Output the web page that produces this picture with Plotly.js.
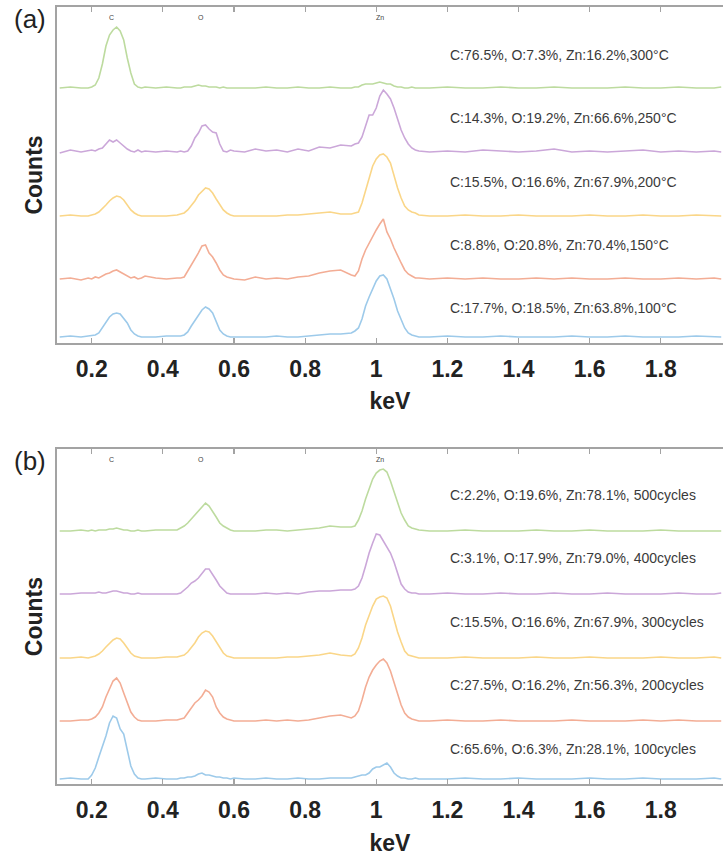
<!DOCTYPE html>
<html>
<head>
<meta charset="utf-8">
<script src="https://cdn.plot.ly/plotly-3.0.1.min.js"></script>
<style>html,body{margin:0;padding:0;background:#fff;overflow:hidden;}</style>
</head>
<body>
<div id="chart" style="width:723px;height:856px;"></div>
<script>
// ---------- DATA ----------
const keV = [0.11,0.14,0.17,
  0.19,0.20,0.21,0.22,0.23,0.24,0.25,0.26,0.27,0.28,0.29,0.30,0.31,0.32,0.33,0.34,0.35,
  0.38,0.41,
  0.44,0.45,0.46,0.47,0.48,0.49,0.50,0.51,0.52,0.53,0.54,0.55,0.56,0.57,0.58,0.59,0.60,
  0.63,0.66,0.69,0.72,0.75,0.78,0.81,0.84,0.87,0.90,
  0.93,0.94,0.95,0.96,0.97,0.98,0.99,1.00,1.01,1.02,1.03,1.04,1.05,1.06,1.07,1.08,1.09,1.10,1.11,1.12,
  1.15,1.20,1.25,1.30,1.35,1.40,1.45,1.50,1.55,1.60,1.65,1.70,1.75,1.80,1.85,1.90,1.95,1.97];

// (a) temperature series: counts above each spectrum's baseline
const a100 = [0,1,0, 1,1,2,4,9,15,20,23,24,23,19,14,7,3,1,0,0, 0,1,
  1,1,2,5,11,16,22,27,30,28,24,15,7,3,1,0,0, 0,0,0,1,0,0,1,2,3,3,
  4,6,9,18,31,40,49,56,61,62,58,49,38,26,17,9,4,2,1,0,
  0,1,0,0,1,0,0,0,1,0,0,1,0,0,0,1,0,0];
const a150 = [0,1,-1, 1,0,2,1,3,5,6,8,9,7,5,3,1,2,0,1,3, 1,0,
  1,1,2,8,14,19,26,33,34,26,22,16,9,4,2,1,0, -1,2,0,1,0,2,3,6,8,9,
  4,3,8,20,29,36,42,49,55,60,47,40,31,23,16,9,5,3,1,1,
  0,1,0,1,0,0,1,0,1,0,0,1,0,0,1,0,1,0];
const a200 = [0,1,0, 0,1,2,4,7,11,15,18,20,19,16,11,6,3,1,0,0, 0,0,
  1,2,3,6,10,15,21,25,28,27,23,17,11,6,3,1,0, 0,0,0,0,1,1,2,3,4,2,
  2,3,4,13,26,39,50,57,61,62,59,53,39,28,18,10,6,4,3,1,
  0,0,1,0,0,1,0,0,0,1,0,0,1,0,0,1,0,0];
const a250 = [-1,2,0, 1,2,1,3,4,8,12,10,12,9,6,3,1,0,2,0,1, 0,1,
  0,1,0,1,6,14,19,26,27,23,20,19,8,1,0,2,1, 0,3,1,2,0,3,1,5,4,7,
  6,8,9,15,26,37,37,44,56,62,58,53,44,33,22,14,8,4,2,1,
  0,1,0,2,1,0,1,3,0,1,0,1,2,0,1,0,1,0];
const a300 = [0,1,0, 0,1,3,10,24,42,53,58,61,57,48,30,15,4,1,0,1, 0,1,
  0,0,1,1,1,2,3,2,2,1,1,1,0,1,0,0,0, 0,0,1,0,0,1,0,0,1,0,
  0,1,1,3,4,4,4,5,6,5,4,4,2,1,1,0,0,1,0,0,
  0,1,0,0,1,0,0,1,0,0,0,1,0,0,1,0,0,1];

// (b) cycle series
const b100 = [0,1,0, 0,4,11,22,32,43,56,63,61,50,45,30,13,5,1,0,0, 1,0,
  0,1,1,2,2,3,5,6,4,4,3,2,2,1,1,0,1, 0,0,1,0,0,1,0,0,1,1,
  1,2,3,4,4,6,10,12,12,14,16,12,6,3,1,1,0,0,1,0,
  0,0,1,0,0,1,0,0,0,1,0,0,1,0,0,0,1,0];
const b200 = [0,0,1, 1,2,4,8,14,24,32,40,43,38,28,18,9,4,1,0,0, 0,1,
  1,2,3,8,13,18,21,25,31,29,24,14,8,4,2,1,0, 0,0,1,0,1,0,1,3,5,6,
  3,5,10,21,34,44,51,56,60,62,58,50,38,26,16,8,4,2,1,0,
  0,1,0,0,1,0,0,0,1,0,0,0,1,0,1,0,0,0];
const b300 = [0,0,1, 0,1,2,4,7,11,15,18,20,19,15,10,5,2,1,0,0, 0,1,
  1,2,3,6,10,15,21,25,27,26,22,16,10,5,2,1,0, 0,0,0,0,1,1,2,3,5,3,
  2,4,10,20,33,43,52,59,61,62,60,52,38,26,16,7,3,2,1,0,
  0,0,1,0,0,0,1,0,0,1,0,0,0,1,0,0,1,0];
const b400 = [0,0,1, 1,1,1,2,1,1,2,3,3,2,1,1,0,0,1,0,0, 0,0,
  0,1,4,7,11,13,16,20,25,25,20,14,8,4,1,0,0, 0,0,1,0,1,0,2,3,3,4,
  4,5,8,16,28,41,51,60,59,53,48,41,32,21,10,5,2,1,1,0,
  0,1,0,0,1,0,0,1,0,0,1,0,0,0,1,0,0,1];
const b500 = [0,0,1, 0,1,0,1,1,1,2,2,3,2,1,1,0,0,1,0,0, 1,1,
  1,3,5,8,12,16,21,25,28,25,20,14,8,5,3,1,0, 0,0,1,1,0,1,2,3,5,4,
  4,5,11,20,32,43,52,58,61,62,59,50,40,29,18,11,5,3,2,1,
  0,0,1,0,0,0,1,0,0,1,0,0,0,1,0,0,0,0];

// vertical stacking offsets (bottom to top)
const offsetsA = [6, 64, 127, 191, 255];
const offsetsB = [5, 63, 126, 190, 253];

const labelsA = ['C:17.7%, O:18.5%, Zn:63.8%,100°C', 'C:8.8%, O:20.8%, Zn:70.4%,150°C',
  'C:15.5%, O:16.6%, Zn:67.9%,200°C', 'C:14.3%, O:19.2%, Zn:66.6%,250°C',
  'C:76.5%, O:7.3%, Zn:16.2%,300°C'];
const labelsB = ['C:65.6%, O:6.3%, Zn:28.1%, 100cycles', 'C:27.5%, O:16.2%, Zn:56.3%, 200cycles',
  'C:15.5%, O:16.6%, Zn:67.9%, 300cycles', 'C:3.1%, O:17.9%, Zn:79.0%, 400cycles',
  'C:2.2%, O:19.6%, Zn:78.1%, 500cycles'];

const elements = ['C', 'O', 'Zn'];
const elementKeV = [0.257, 0.507, 1.011];

const tickVals = [0.2, 0.4, 0.6, 0.8, 1.0, 1.2, 1.4, 1.6, 1.8];
const tickText = ['0.2', '0.4', '0.6', '0.8', '1', '1.2', '1.4', '1.6', '1.8'];

// ---------- STYLE ----------
const colors = ['#9dcaea', '#f3ad95', '#fad688', '#cba7d9', '#bddb9f'];
const FONT = 'Liberation Sans, Arial, sans-serif';

const seriesA = [a100, a150, a200, a250, a300];
const seriesB = [b100, b200, b300, b400, b500];

const traces = [];
seriesA.forEach((s, i) => {
  traces.push({x: keV, y: s.map(v => v + offsetsA[i]), xaxis: 'x2', yaxis: 'y2',
    type: 'scatter', mode: 'lines', line: {color: colors[i], width: 1.6}, hoverinfo: 'skip'});
});
seriesB.forEach((s, i) => {
  traces.push({x: keV, y: s.map(v => v + offsetsB[i]), xaxis: 'x', yaxis: 'y',
    type: 'scatter', mode: 'lines', line: {color: colors[i], width: 1.6}, hoverinfo: 'skip'});
});

const axisColor = '#a3a3a3';
function xAxis(anchor) {
  return {
    anchor: anchor, range: [0.1024, 1.975], showline: true, linecolor: axisColor, linewidth: 1.6,
    mirror: 'ticks', ticks: 'inside', ticklen: 5, tickwidth: 1.2, tickcolor: axisColor,
    tickvals: tickVals, ticktext: tickText, ticklabelstandoff: 5,
    tickfont: {family: FONT, size: 23, color: '#222', weight: 'bold'},
    showgrid: false, zeroline: false,
    title: {text: 'keV', font: {family: FONT, size: 23, color: '#222', weight: 'bold'}, standoff: 12}
  };
}
function yAxis(domain, top) {
  return {
    domain: domain, range: [0, top], showline: true, linecolor: axisColor, linewidth: 1.6,
    mirror: false, ticks: '', showticklabels: false, showgrid: false, zeroline: false,
    title: {text: 'Counts', font: {family: FONT, size: 23, color: '#222', weight: 'bold'}, standoff: 6}
  };
}

const annotations = [];
const labelYA = [35, 98, 161, 225, 288];
const labelYB = [35, 99, 162, 226, 289];
labelsA.forEach((t, i) => annotations.push({xref: 'x2', yref: 'y2', x: 1.202, y: labelYA[i],
  xanchor: 'left', yanchor: 'middle', text: t, showarrow: false, font: {family: FONT, size: 14, color: '#3a3a3a'}}));
labelsB.forEach((t, i) => annotations.push({xref: 'x', yref: 'y', x: 1.202, y: labelYB[i],
  xanchor: 'left', yanchor: 'middle', text: t, showarrow: false, font: {family: FONT, size: 14, color: '#3a3a3a'}}));
elements.forEach((e, i) => {
  annotations.push({xref: 'x2', yref: 'y2', x: elementKeV[i], y: 326, text: e, showarrow: false,
    xanchor: 'center', yanchor: 'middle', font: {family: FONT, size: 7, color: '#444'}});
  annotations.push({xref: 'x', yref: 'y', x: elementKeV[i], y: 325, text: e, showarrow: false,
    xanchor: 'center', yanchor: 'middle', font: {family: FONT, size: 7, color: '#444'}});
});
annotations.push({xref: 'paper', yref: 'paper', x: -0.0676, y: 0.9846, xanchor: 'left', yanchor: 'middle',
  text: '(a)', showarrow: false, font: {family: FONT, size: 26, color: '#222'}});
annotations.push({xref: 'paper', yref: 'paper', x: -0.0676, y: 0.4157, xanchor: 'left', yanchor: 'middle',
  text: '(b)', showarrow: false, font: {family: FONT, size: 26, color: '#222'}});

const layout = {
  width: 723, height: 856,
  margin: {l: 57, r: 0, t: 7, b: 72},
  paper_bgcolor: '#fff', plot_bgcolor: '#fff',
  showlegend: false,
  xaxis: xAxis('y'),
  yaxis: yAxis([0, 0.4311], 335),
  xaxis2: xAxis('y2'),
  yaxis2: yAxis([0.5676, 1], 336),
  annotations: annotations
};

Plotly.newPlot('chart', traces, layout, {displayModeBar: false, staticPlot: true});
</script>
</body>
</html>
